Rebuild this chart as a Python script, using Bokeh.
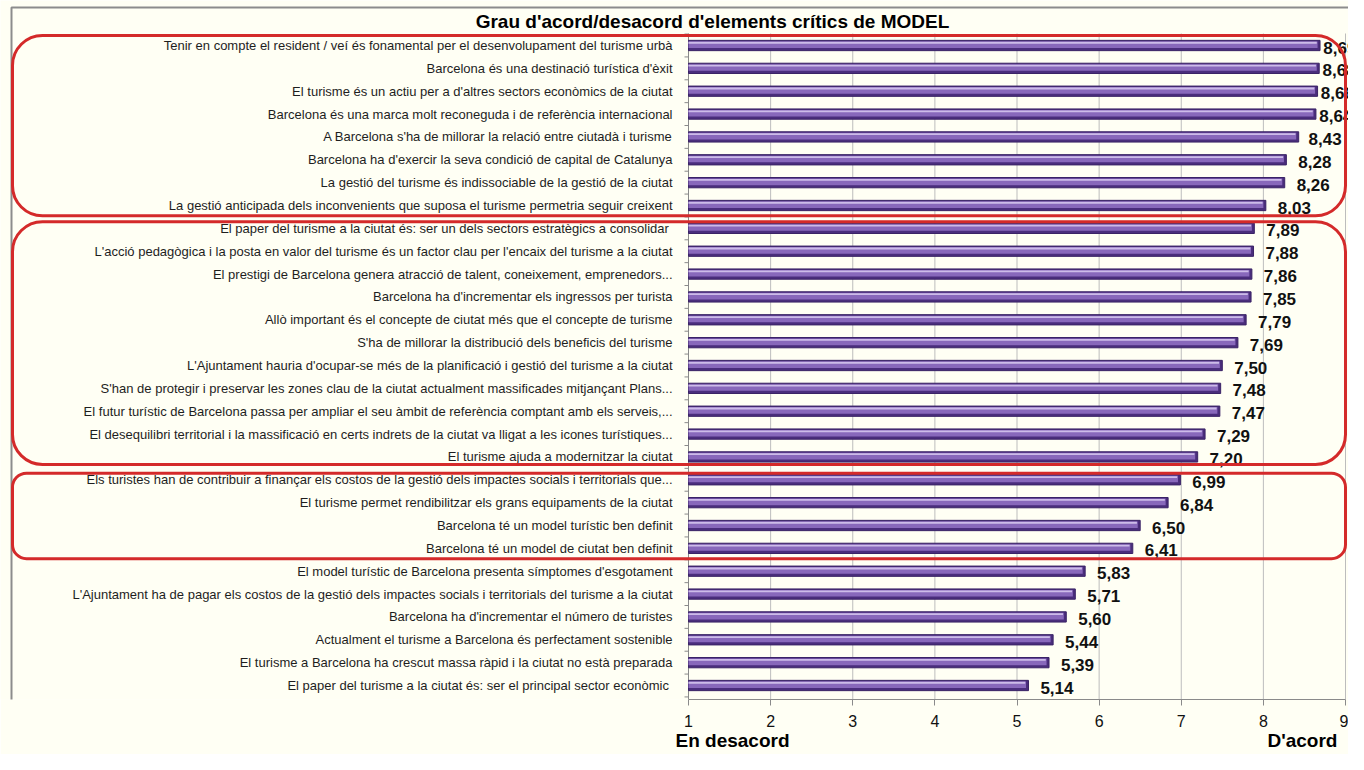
from bokeh.plotting import figure
from bokeh.models import (Range1d, FixedTicker, LinearAxis, BoxAnnotation,
                          ColumnDataSource)
from bokeh.core.properties import value
from bokeh.embed import file_html
from bokeh.resources import INLINE

# ---------------- data ----------------
statements = [
    "Tenir en compte el resident / veí és fonamental per el desenvolupament del turisme urbà",
    "Barcelona és una destinació turística d'èxit",
    "El turisme és un actiu per a d'altres sectors econòmics de la ciutat",
    "Barcelona és una marca molt reconeguda i de referència internacional",
    "A Barcelona s'ha de millorar la relació entre ciutadà i turisme",
    "Barcelona ha d'exercir la seva condició de capital de Catalunya",
    "La gestió del turisme és indissociable de la gestió de la ciutat",
    "La gestió anticipada dels inconvenients que suposa el turisme permetria seguir creixent",
    "El paper del turisme a la ciutat és:  ser un dels sectors estratègics a consolidar",
    "L'acció pedagògica i la posta en valor del turisme és un factor clau per l'encaix del turisme a la ciutat",
    "El prestigi de Barcelona genera atracció de talent, coneixement, emprenedors...",
    "Barcelona ha d'incrementar els ingressos per turista",
    "Allò important és el concepte de ciutat més que el concepte de turisme",
    "S'ha de millorar la distribució dels beneficis del turisme",
    "L'Ajuntament hauria d'ocupar-se més de la planificació i gestió del turisme a la ciutat",
    "S'han de protegir i preservar les zones clau de la ciutat actualment massificades mitjançant Plans...",
    "El futur turístic de Barcelona passa per ampliar el seu àmbit de referència comptant amb els serveis,...",
    "El desequilibri territorial i la massificació en certs indrets de la ciutat va lligat a les icones turístiques...",
    "El turisme ajuda a modernitzar la ciutat",
    "Els turistes han de contribuir a finançar els costos de la gestió dels impactes socials i territorials que...",
    "El turisme permet rendibilitzar els grans equipaments de la ciutat",
    "Barcelona té un model turístic ben definit",
    "Barcelona té un model de ciutat ben definit",
    "El model turístic de Barcelona presenta símptomes d'esgotament",
    "L'Ajuntament ha de pagar els costos de la gestió dels impactes socials i territorials del turisme a la ciutat",
    "Barcelona ha d'incrementar el número de turistes",
    "Actualment el turisme a Barcelona és perfectament sostenible",
    "El turisme a Barcelona ha crescut massa ràpid i la ciutat no està preparada",
    "El paper del turisme a la ciutat és:  ser el principal sector econòmic",
]
scores = [8.69, 8.68, 8.66, 8.64, 8.43, 8.28, 8.26, 8.03,
          7.89, 7.88, 7.86, 7.85, 7.79, 7.69, 7.50, 7.48, 7.47, 7.29, 7.20,
          6.99, 6.84, 6.50, 6.41,
          5.83, 5.71, 5.60, 5.44, 5.39, 5.14]
# groups highlighted with red frames: (first row, last row)
groups = [(0, 7), (8, 18), (19, 22)]
x_ticks = [1, 2, 3, 4, 5, 6, 7, 8, 9]
title_text = "Grau d'acord/desacord d'elements crítics de MODEL"
low_label = "En desacord"
high_label = "D'acord"

# ---------------- layout (pixels on the canvas) ----------------
W, H = 1348, 754
MB = 55
BG = "#FFFFF4"
FONT = "Liberation Sans"
n = len(statements)
rows = list(range(n))

frame_w = W
frame_h = H - MB
px_x1, px_x9 = 688, 1345         # canvas x of values 1 and 9
u = (px_x9 - px_x1) / 8.0        # px per unit on x
X0 = 1 - px_x1 / u               # data x at canvas 0
X1 = X0 + frame_w / u            # data x at frame right
px_row0, px_rowN = 45, 685       # canvas y of first / last bar centre
v_u = (px_rowN - px_row0) / (n - 1)
Y0 = -px_row0 / v_u              # data y at canvas 0
Y1 = Y0 + frame_h / v_u          # data y at frame bottom


def xd(px):
    return X0 + px / u


def yd(py):
    return Y0 + py / v_u


p = figure(width=W, height=H, output_backend="svg", toolbar_location=None,
           x_range=Range1d(X0, X1), y_range=Range1d(Y1, Y0),
           x_axis_location=None, y_axis_location=None,
           min_border_left=0, min_border_right=0, min_border_top=0,
           min_border_bottom=MB, background_fill_color=BG, border_fill_color=BG,
           outline_line_color=None)
p.xgrid.grid_line_color = None
p.ygrid.grid_line_color = None

# x axis (value scale)
xaxis = LinearAxis(ticker=FixedTicker(ticks=x_ticks), bounds=(1, 9))
xaxis.axis_line_color = "#8A8A8A"
xaxis.major_tick_line_color = "#8A8A8A"
xaxis.major_tick_out = 6
xaxis.major_tick_in = 0
xaxis.minor_tick_line_color = None
xaxis.major_label_text_font = FONT
xaxis.major_label_text_font_size = "16px"
xaxis.major_label_text_color = "#111111"
xaxis.major_label_standoff = 9
p.add_layout(xaxis, "below")

# second axis carrying the scale end captions
end_pos = [xd(732), xd(1302)]
cap_axis = LinearAxis(ticker=FixedTicker(ticks=end_pos))
cap_axis.major_label_overrides = {end_pos[0]: low_label, end_pos[1]: high_label}
cap_axis.axis_line_color = None
cap_axis.major_tick_line_color = None
cap_axis.minor_tick_line_color = None
cap_axis.major_tick_out = 0
cap_axis.major_label_standoff = 0
cap_axis.major_label_text_font = FONT
cap_axis.major_label_text_font_size = "19px"
cap_axis.major_label_text_font_style = "bold"
cap_axis.major_label_text_color = "#000000"
p.add_layout(cap_axis, "below")

# outer chart border
p.add_layout(BoxAnnotation(left=xd(11), right=xd(W + 50), top=yd(7), bottom=yd(H + 50),
                           fill_color=None, line_color="#8C8C8C", line_width=2,
                           line_alpha=1))

# vertical grid lines and the category axis line
g_top = yd(33)
p.segment(x0=x_ticks[1:], y0=g_top, x1=x_ticks[1:], y1=Y1,
          line_color="#BDBDBD", line_width=1)
p.segment(x0=[1], y0=g_top, x1=[1], y1=Y1, line_color="#8A8A8A", line_width=1)
bounds_y = [i - 0.5 for i in range(n + 1)]
p.segment(x0=[1] * len(bounds_y), y0=bounds_y, x1=[1 - 4 / u] * len(bounds_y),
          y1=bounds_y, line_color="#8A8A8A", line_width=1)

# bars (layered to imitate the cylinder shading)
src = ColumnDataSource(dict(y=rows, v=scores, cat=statements,
                            lbl=[f"{v:.2f}".replace(".", ",") for v in scores]))
p.hbar(y="y", left=1, right="v", height=0.45, source=src,
       fill_color="#4A2D7C", line_color="#3A2366", line_width=1)
p.hbar(y=[r - 0.035 for r in rows], left=1, right=[v - 0.03 for v in scores], height=0.29,
       fill_color="#8868BB", line_color=None)
p.hbar(y=[r - 0.12 for r in rows], left=1, right=[v - 0.04 for v in scores], height=0.08,
       fill_color="#CDBCE9", line_color=None)

# category labels
p.text(x=1, y="y", text="cat", source=src, x_offset=-16, text_font=value(FONT),
       text_font_size="13px", text_color="#1E1E1E", text_align="right",
       text_baseline="middle")

# value labels after the bar end, pushed left when they would overflow
lab_w = 0.47
lx = []
for v in scores:
    if v + 0.145 + lab_w <= 9.02:
        lx.append(v + 0.145)
    else:
        lx.append(max(v + 0.04, 9.02 - lab_w))
src.data["lx"] = lx
p.text(x="lx", y="y", text="lbl", source=src, text_font=value(FONT),
       text_font_size="17px", text_font_style="bold", text_color="#111111",
       text_align="left", text_baseline="middle", y_offset=2)

# red group frames
for a, b in groups:
    top = a - 0.44 if a == 0 else a - 0.29
    bottom = b + 0.45 if b != 18 else b + 0.33
    rad = 14 if (b - a) < 5 else 30
    p.add_layout(BoxAnnotation(left=xd(12), right=xd(frame_w - 3), top=top, bottom=bottom,
                               fill_color=None, line_color="#D42A2A", line_width=3,
                               line_alpha=1, border_radius=rad))

# title
p.text(x=[xd(712)], y=[yd(21)], text=[title_text], text_font=value(FONT),
       text_font_size="19px", text_font_style="bold", text_color="#000000",
       text_align="center", text_baseline="middle")

open("out.html", "w").write(file_html(p, INLINE))
